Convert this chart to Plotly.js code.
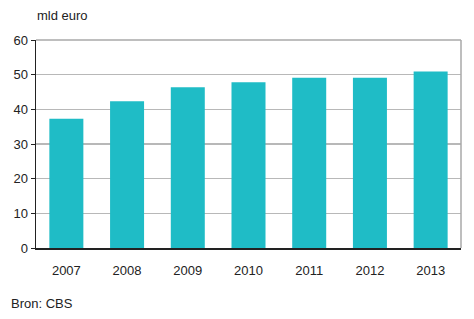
<!DOCTYPE html>
<html>
<head>
<meta charset="utf-8">
<script src="https://cdn.plot.ly/plotly-3.0.1.min.js"></script>
<style>html,body{margin:0;padding:0;background:#fff;}#chart{width:474px;height:319px;}</style>
</head>
<body>
<div id="chart"></div>
<script>
const years = ['2007','2008','2009','2010','2011','2012','2013'];
const values = [37.3, 42.3, 46.4, 47.8, 49.1, 49.1, 50.9];
const yTicks = [0,10,20,30,40,50,60];
const unitLabel = 'mld euro';
const sourceLabel = 'Bron: CBS';

const font = {family: 'Liberation Sans, Arial, sans-serif', size: 13, color: '#222'};

Plotly.newPlot('chart', [{
  type: 'bar',
  x: years,
  y: values,
  marker: {color: '#1fbcc6', line: {width: 0}},
  hoverinfo: 'skip'
}], {
  width: 474, height: 319,
  margin: {l: 36, r: 13, t: 40, b: 71},
  paper_bgcolor: '#fff', plot_bgcolor: '#fff',
  font: font,
  bargap: 0.44,
  showlegend: false,
  xaxis: {
    type: 'category',
    showline: true, linecolor: '#222', linewidth: 1.5,
    ticks: '', showgrid: false,
    ticklabelstandoff: 10,
    tickfont: font
  },
  yaxis: {
    range: [0, 60], tickvals: yTicks,
    showline: true, linecolor: '#222', linewidth: 1.5,
    ticks: 'outside', ticklen: 4, tickcolor: '#222',
    showgrid: true, gridcolor: '#b8b8b8', gridwidth: 1.3,
    zeroline: false,
    tickfont: font
  },
  shapes: [
    {type: 'line', xref: 'paper', yref: 'paper', x0: 0, x1: 1, y0: 1, y1: 1, line: {color: '#a8a8a8', width: 1.5}},
    {type: 'line', xref: 'paper', yref: 'paper', x0: 1, x1: 1, y0: 0, y1: 1, line: {color: '#a8a8a8', width: 1.5}}
  ],
  annotations: [
    {text: unitLabel, xref: 'paper', yref: 'paper', x: 0, y: 1, xshift: -1, yshift: 25, xanchor: 'left', yanchor: 'middle', showarrow: false, font: font},
    {text: sourceLabel, xref: 'paper', yref: 'paper', x: 0, y: 0, xshift: -27, yshift: -55, xanchor: 'left', yanchor: 'middle', showarrow: false, font: font}
  ]
}, {displayModeBar: false, staticPlot: true});
</script>
</body>
</html>
